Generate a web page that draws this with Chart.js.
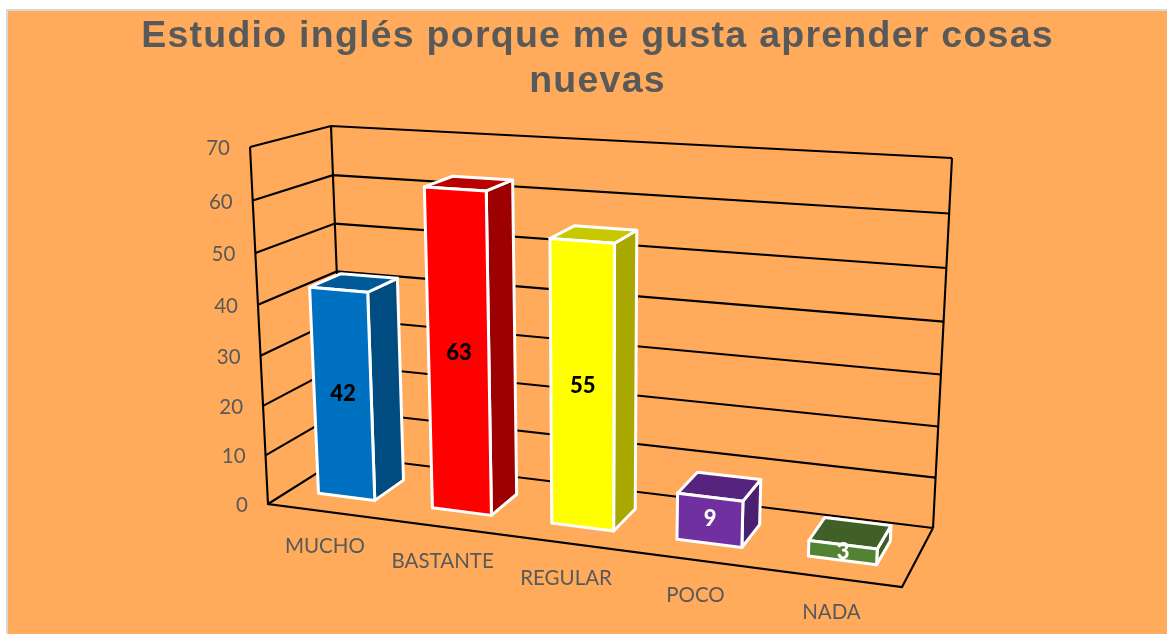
<!DOCTYPE html>
<html><head><meta charset="utf-8">
<style>html,body{margin:0;padding:0;background:#fff}canvas{display:block}</style>
<script src="https://cdn.jsdelivr.net/npm/chart.js@4"></script>
</head><body><canvas id="c" width="1167" height="634"></canvas>
<script>
const titleLines = ['Estudio inglés porque me gusta aprender cosas', 'nuevas'];
const categories = ['MUCHO', 'BASTANTE', 'REGULAR', 'POCO', 'NADA'];
const values = [42, 63, 55, 9, 3];
const frontColors = ['#0070C0', '#FF0000', '#FFFF00', '#7030A0', '#548235'];
const sideColors  = ['#004C80', '#9C0000', '#A8A800', '#4A2070', '#3C5E25'];
const topColors   = ['#005A98', '#B80000', '#C8C800', '#56247C', '#406028'];
const labelColors = ['#000000', '#000000', '#000000', '#FFFFFF', '#FFFFFF'];

// Projection frame of the 3D box (style / layout, not data)
const frontQuad = [[268,504],[902,587],[922,187],[250,147]];
const backQuad  = [[344,456],[933,528],[952,158],[331,126]];
const depthFront = 0.3, depthBack = 0.71;

function homography(q){
  const [[x0,y0],[x1,y1],[x2,y2],[x3,y3]] = q;
  const dx1=x1-x2, dx2=x3-x2, sx=x0-x1+x2-x3;
  const dy1=y1-y2, dy2=y3-y2, sy=y0-y1+y2-y3;
  const den=dx1*dy2-dx2*dy1;
  const g=(sx*dy2-dx2*sy)/den, h=(dx1*sy-sx*dy1)/den;
  const a=x1-x0+g*x1, b=x3-x0+h*x3, d=y1-y0+g*y1, e=y3-y0+h*y3;
  return (u,v)=>{const k=g*u+h*v+1;return [(a*u+b*v+x0)/k,(d*u+e*v+y0)/k];};
}
const hF = homography(frontQuad), hB = homography(backQuad);
function P(u,v,w){
  const f=hF(u,v), b=hB(u,v);
  return [f[0]+(b[0]-f[0])*w, f[1]+(b[1]-f[1])*w];
}
function poly(ctx, pts, fill){
  ctx.beginPath();
  pts.forEach((p,i)=> i? ctx.lineTo(p[0],p[1]) : ctx.moveTo(p[0],p[1]));
  ctx.closePath();
  if(fill){ctx.fillStyle=fill;ctx.fill();}
  ctx.stroke();
}
function path(ctx, pts){
  ctx.beginPath();
  pts.forEach((p,i)=> i? ctx.lineTo(p[0],p[1]) : ctx.moveTo(p[0],p[1]));
  ctx.stroke();
}

const perspective = {
  id:'perspective',
  beforeDraw(chart){
    const ctx=chart.ctx;
    ctx.save();
    ctx.fillStyle='#FFFFFF';ctx.fillRect(0,0,chart.width,chart.height);
    ctx.fillStyle='#D9D9D9';ctx.fillRect(6,9,chart.width-6,chart.height-9);
    ctx.fillStyle='#FFAB5B';ctx.fillRect(8,11,chart.width-8,chart.height-11);
    ctx.restore();
    ctx.letterSpacing='1.25px';
  },
  beforeDatasetsDraw(chart){ chart.ctx.letterSpacing='0px'; },
  beforeDatasetDraw(chart,args){
    const ctx=chart.ctx, a=chart.chartArea, xs=chart.scales.x, ys=chart.scales.y;
    const U=px=>(px-a.left)/(a.right-a.left), V=px=>(a.bottom-px)/(a.bottom-a.top);
    ctx.save();
    // walls and floor
    ctx.strokeStyle='#000000';ctx.lineWidth=2.1;ctx.lineJoin='miter';
    ys.ticks.forEach(t=>{
      const v=V(ys.getPixelForValue(t.value));
      path(ctx,[P(0,v,0),P(0,v,1),P(1,v,1)]);
    });
    path(ctx,[P(0,1,0),P(0,0,0),P(1,0,0),P(1,0,1)]);
    path(ctx,[P(0,0,1),P(0,1,1)]);
    path(ctx,[P(1,0,1),P(1,1,1)]);
    // axis labels
    ctx.font='20.5px Lato';ctx.fillStyle='#595959';ctx.textBaseline='middle';
    ctx.textAlign='right';
    ys.ticks.forEach(t=>{
      const p=P(0,V(ys.getPixelForValue(t.value)),0);
      ctx.fillText(String(t.value),p[0]-20,p[1]+1.5);
    });
    ctx.textAlign='center';
    categories.forEach((c,i)=>{
      const p=P(U(xs.getPixelForValue(i)),0,0);
      ctx.fillText(c,p[0],p[1]+35);
    });
    // bars
    const els=chart.getDatasetMeta(args.index).data;
    els.forEach((el,i)=>{
      const u0=U(el.x-el.width/2),u1=U(el.x+el.width/2),v0=V(el.base),v1=V(el.y);
      ctx.strokeStyle='#FFFFFF';ctx.lineWidth=3;ctx.lineJoin='round';
      poly(ctx,[P(u1,v0,depthFront),P(u1,v0,depthBack),P(u1,v1,depthBack),P(u1,v1,depthFront)],sideColors[i]);
      poly(ctx,[P(u0,v1,depthFront),P(u1,v1,depthFront),P(u1,v1,depthBack),P(u0,v1,depthBack)],topColors[i]);
      poly(ctx,[P(u0,v0,depthFront),P(u1,v0,depthFront),P(u1,v1,depthFront),P(u0,v1,depthFront)],frontColors[i]);
      const m=P((u0+u1)/2,(v0+v1)/2,depthFront);
      ctx.font='900 22px Lato';ctx.fillStyle=labelColors[i];ctx.textAlign='center';ctx.textBaseline='middle';
      ctx.fillText(String(values[i]),m[0]+0.5,m[1]-1);
    });
    ctx.restore();
    return false;
  }
};

new Chart(document.getElementById('c'),{
  type:'bar',
  data:{labels:categories,datasets:[{data:values,backgroundColor:frontColors,categoryPercentage:0.5,barPercentage:1}]},
  options:{
    responsive:false,animation:false,
    layout:{padding:{left:28,right:0,top:10,bottom:10}},
    plugins:{
      legend:{display:false},tooltip:{enabled:false},
      title:{display:true,text:titleLines,color:'#595959',
        font:{family:'"Liberation Sans"',size:37.5,weight:'bold',lineHeight:1.18},
        padding:{top:5,bottom:10}}
    },
    scales:{
      x:{display:false},
      y:{display:false,min:0,max:70,ticks:{stepSize:10}}
    }
  },
  plugins:[perspective]
});
</script></body></html>
